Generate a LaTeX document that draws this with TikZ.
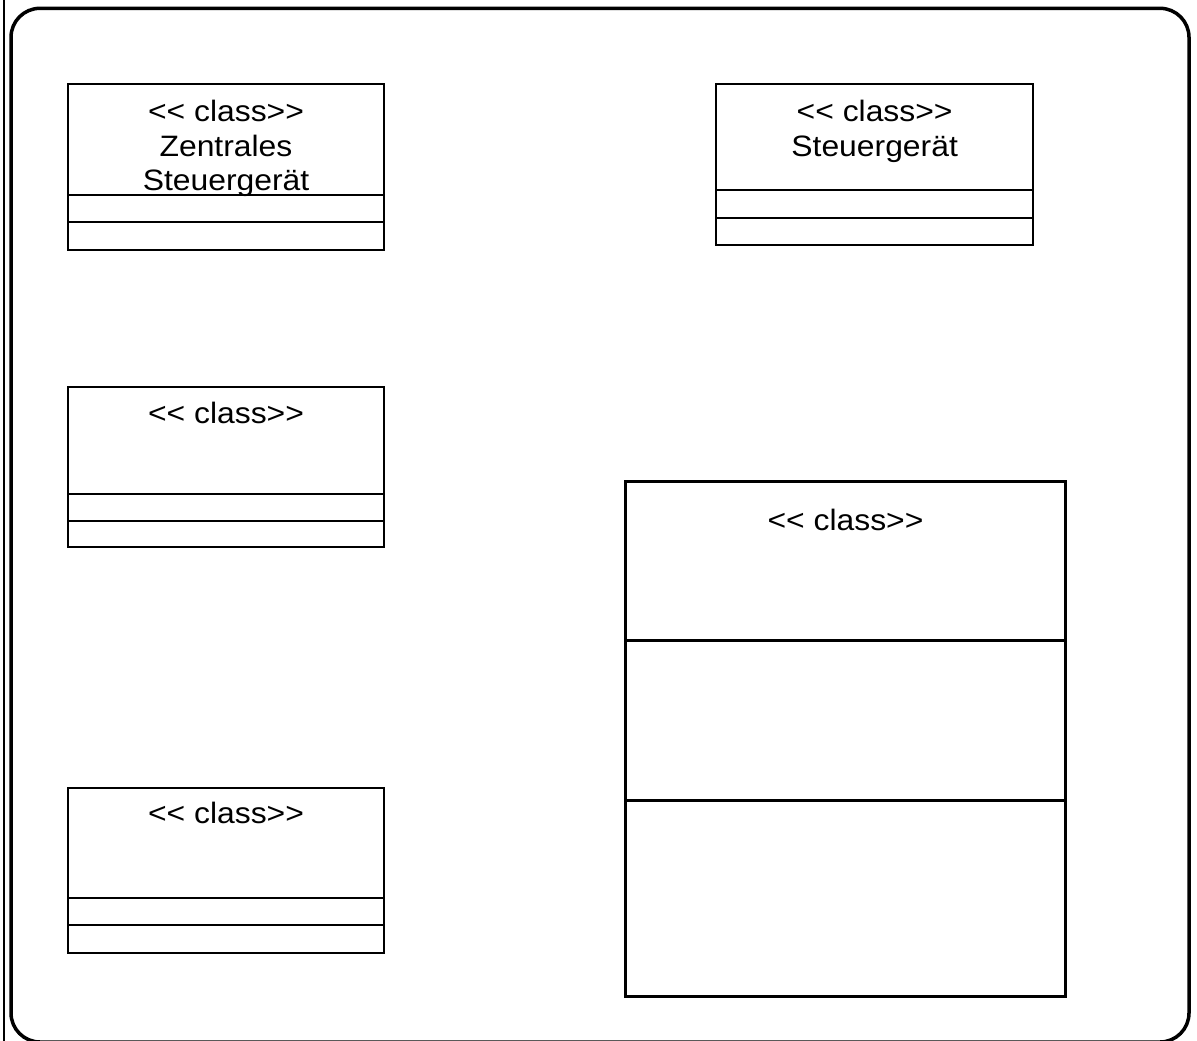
\documentclass[tikz,border=0pt]{standalone}
\usepackage{fontspec}
\setmainfont{Liberation Sans}[Ligatures=TeXOff, FakeStretch=1.08]
\usepackage{tikz}
\usetikzlibrary{positioning}

\begin{document}
\begin{tikzpicture}[
      x=1pt, y=-1pt,
      cls/.style={draw=black, line width=2.2pt, inner sep=0pt, outer sep=0pt, anchor=north west},
      sep/.style={line width=2.2pt},
      lab/.style={inner sep=0pt, anchor=base, font=\fontsize{29.5}{34}\selectfont}
    ]
    \useasboundingbox (0,0) rectangle (1197,1041);

    % frame
    \coordinate (ltop) at (3.7,0);
    \coordinate (lbot) at (3.7,1041);
    \draw[line width=2pt] (ltop) -- (lbot);
    \draw[line width=3.5pt, rounded corners=29pt] (11,8.3) rectangle (1189,1042);

    % classes
    \node[cls, minimum width=316pt, minimum height=166pt] (zsg) at (68,84.3) {};
    \node[cls, minimum width=317.3pt, minimum height=161pt] (sg) at (716,84.3) {};
    \node[cls, minimum width=316pt, minimum height=160pt] (c3) at (68,387) {};
    \node[cls, minimum width=316pt, minimum height=164.7pt] (c4) at (68,788) {};
    \node[cls, line width=2.7pt, minimum width=440pt, minimum height=515pt] (c5) at (625.5,481.3) {};

    % compartments
    \draw[sep] ([yshift=-111pt]zsg.north west) -- ([yshift=-111pt]zsg.north east);
    \draw[sep] ([yshift=-138pt]zsg.north west) -- ([yshift=-138pt]zsg.north east);
    \draw[sep] ([yshift=-105.7pt]sg.north west) -- ([yshift=-105.7pt]sg.north east);
    \draw[sep] ([yshift=-133.7pt]sg.north west) -- ([yshift=-133.7pt]sg.north east);
    \draw[sep] ([yshift=-106.7pt]c3.north west) -- ([yshift=-106.7pt]c3.north east);
    \draw[sep] ([yshift=-134pt]c3.north west) -- ([yshift=-134pt]c3.north east);
    \draw[sep] ([yshift=-110.3pt]c4.north west) -- ([yshift=-110.3pt]c4.north east);
    \draw[sep] ([yshift=-137.3pt]c4.north west) -- ([yshift=-137.3pt]c4.north east);
    \draw[sep, line width=2.7pt] ([yshift=-159.4pt]c5.north west) -- ([yshift=-159.4pt]c5.north east);
    \draw[sep, line width=2.7pt] ([yshift=-319.4pt]c5.north west) -- ([yshift=-319.4pt]c5.north east);

    % names
    \node[lab] (zsg-st) at ([yshift=-37.4pt]zsg.north) {<< class>>};
    \node[lab] (zsg-n1) at ([yshift=-34.5pt]zsg-st.base) {Zentrales};
    \node[lab] (zsg-n2) at ([yshift=-34.5pt]zsg-n1.base) {Steuergerät};
    \node[lab] (sg-st) at ([yshift=-37.4pt]sg.north) {<< class>>};
    \node[lab] (sg-n1) at ([yshift=-34.5pt]sg-st.base) {Steuergerät};
    \node[lab] (c3-st) at ([yshift=-36pt]c3.north) {<< class>>};
    \node[lab] (c4-st) at ([yshift=-35pt]c4.north) {<< class>>};
    \node[lab] (c5-st) at ([yshift=-49.4pt]c5.north) {<< class>>};

\end{tikzpicture}
\end{document}
